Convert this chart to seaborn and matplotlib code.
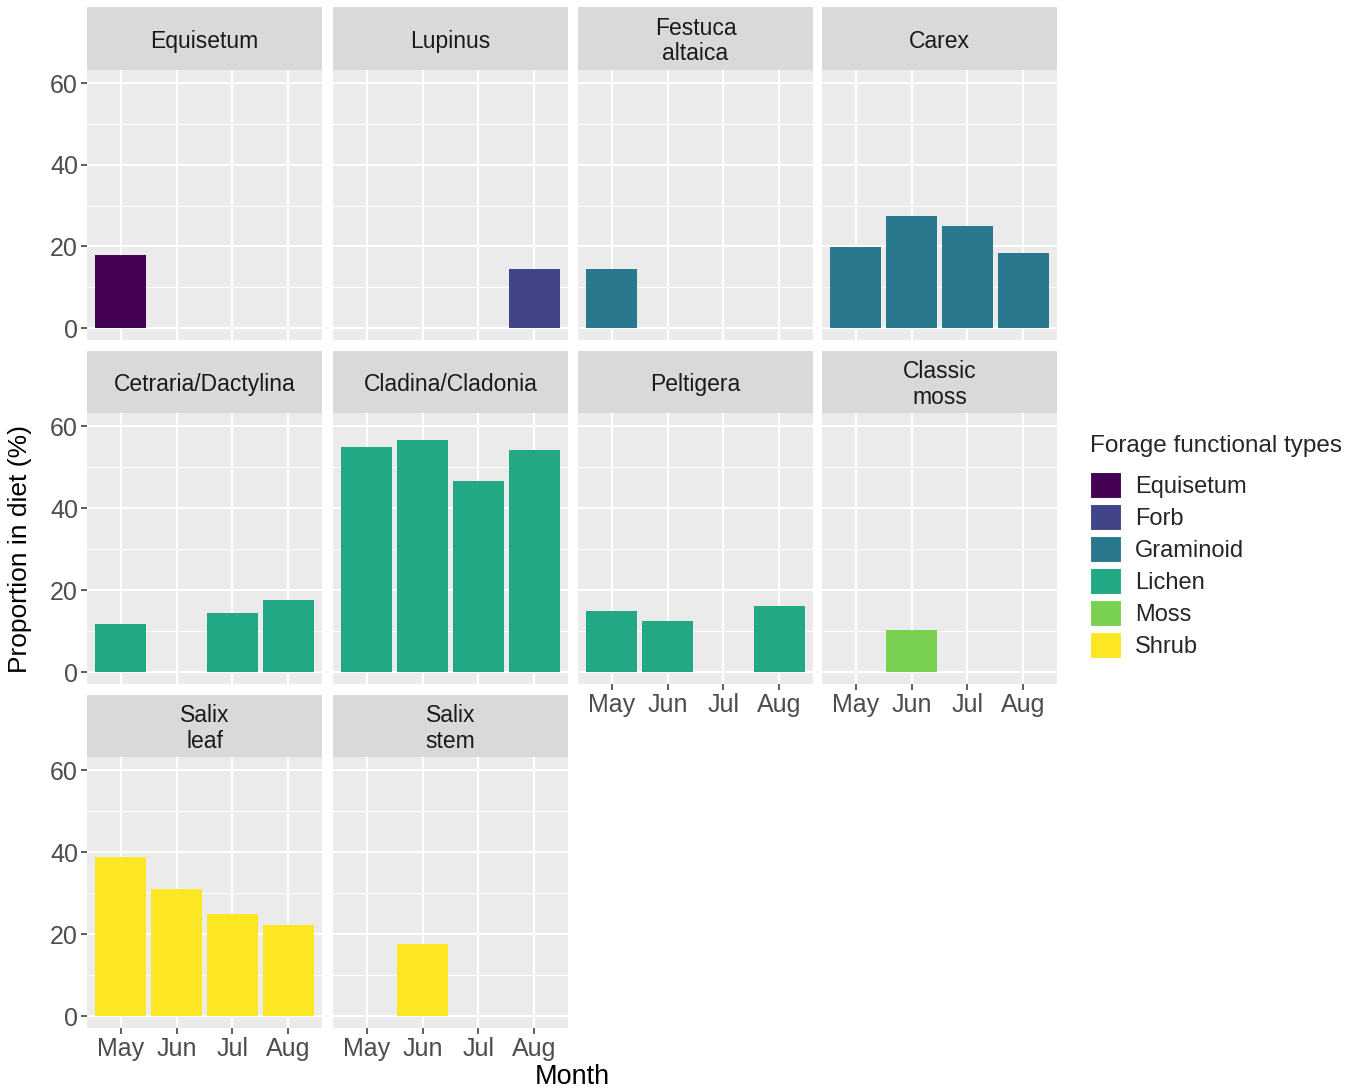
import numpy as np
import pandas as pd
import matplotlib
matplotlib.use("Agg")
import matplotlib.pyplot as plt
import seaborn as sns
from matplotlib.patches import Patch

nan = np.nan

months = ["May", "Jun", "Jul", "Aug"]
panels = ["Equisetum", "Lupinus", "Festuca\naltaica", "Carex",
          "Cetraria/Dactylina", "Cladina/Cladonia", "Peltigera", "Classic\nmoss",
          "Salix\nleaf", "Salix\nstem"]
panel_types = ["Equisetum", "Forb", "Graminoid", "Graminoid",
               "Lichen", "Lichen", "Lichen", "Moss",
               "Shrub", "Shrub"]
types = ["Equisetum", "Forb", "Graminoid", "Lichen", "Moss", "Shrub"]
type_colors = ["#440154", "#414487", "#2A788E", "#22A884", "#7AD151", "#FDE725"]

# Proportion in diet (%) per month, May..Aug
equisetum = [18.0, nan, nan, nan]
lupinus = [nan, nan, nan, 14.4]
festuca = [14.4, nan, nan, nan]
carex = [19.9, 27.5, 25.1, 18.5]
cetraria = [11.8, nan, 14.4, 17.6]
cladina = [54.9, 56.5, 46.5, 54.1]
peltigera = [14.9, 12.5, nan, 16.2]
classic_moss = [nan, 10.3, nan, nan]
salix_leaf = [38.7, 31.1, 25.0, 22.3]
salix_stem = [nan, 17.5, nan, nan]

panel_values = [equisetum, lupinus, festuca, carex, cetraria, cladina,
                peltigera, classic_moss, salix_leaf, salix_stem]

rows = []
for name, ftype, vals in zip(panels, panel_types, panel_values):
    for m, v in zip(months, vals):
        if not np.isnan(v):
            rows.append({"Panel": name, "Type": ftype, "Month": m, "Proportion": v})
df = pd.DataFrame(rows)
palette = dict(zip(types, type_colors))

sns.set_style("white")
plt.rcParams["font.family"] = ["Liberation Sans", "DejaVu Sans"]

W, H = 1364, 1092
fig = plt.figure(figsize=(W / 100, H / 100), dpi=100)
fig.patch.set_facecolor("white")

col_left = [87, 333, 578, 822]
panel_w = 235
row_strip_top = [7, 351, 695]
row_panel_top = [70, 413, 757]
row_panel_bot = [340, 684, 1028]

show_x = {"Peltigera", "Classic\nmoss", "Salix\nleaf", "Salix\nstem"}

for i, name in enumerate(panels):
    r, c = divmod(i, 4)
    l = col_left[c]
    t = row_panel_top[r]
    b = row_panel_bot[r]
    ax = fig.add_axes([l / W, 1 - b / H, panel_w / W, (b - t) / H])
    sub = df[df["Panel"] == name]
    sns.barplot(data=sub, x="Month", y="Proportion", order=months,
                color=palette[panel_types[i]], saturation=1, width=0.9,
                errorbar=None, linewidth=0, ax=ax)
    ax.set_facecolor("#EBEBEB")
    ax.set_xlim(-0.6, 3.6)
    ax.set_ylim(-2.9, 63.2)
    ax.set_yticks([0, 20, 40, 60])
    ax.set_yticks([10, 30, 50], minor=True)
    ax.grid(True, which="major", color="white", linewidth=1.5)
    ax.grid(True, which="minor", axis="y", color="white", linewidth=0.75)
    ax.set_axisbelow(True)
    for s in ax.spines.values():
        s.set_visible(False)
    ax.set_xlabel("")
    ax.set_ylabel("")
    ax.tick_params(axis="both", which="major", left=True, bottom=True,
                   length=4.5, width=1.1, color="#333333",
                   labelcolor="#4D4D4D", labelsize=18, pad=2)
    ax.tick_params(axis="y", which="minor", left=False, length=0)
    if c != 0:
        ax.tick_params(axis="y", which="major", left=False, labelleft=False)
    if name not in show_x:
        ax.tick_params(axis="x", which="major", bottom=False, labelbottom=False)

    # facet strip
    st = row_strip_top[r]
    sax = fig.add_axes([l / W, 1 - t / H, panel_w / W, (t - st) / H])
    sax.set_facecolor("#D9D9D9")
    sax.set_xticks([])
    sax.set_yticks([])
    for s in sax.spines.values():
        s.set_visible(False)
    sax.text(0.5, 0.46, name, ha="center", va="center", fontsize=16.5,
             color="#1A1A1A", linespacing=1.15, transform=sax.transAxes)

fig.text(572 / W, 1 - 1077 / H, "Month", ha="center", va="center",
         fontsize=19.5, color="black")
fig.text(20 / W, 1 - 549 / H, "Proportion in diet (%)", ha="center", va="center",
         rotation=90, fontsize=19, color="black")

handles = [Patch(facecolor=col, edgecolor="white", linewidth=0.8, label=t)
           for t, col in zip(types, type_colors)]
leg = fig.legend(handles=handles, title="Forage functional types",
                 loc="upper left", bbox_to_anchor=(1090 / W, 1 - 435 / H),
                 frameon=False, fontsize=17, title_fontsize=17.5,
                 handlelength=1.3, handleheight=1.3, labelspacing=0.26,
                 handletextpad=0.62, borderaxespad=0, borderpad=0)
leg._legend_box.align = "left"
leg._legend_box.sep = 11

fig.savefig("out.png", dpi=100, facecolor="white")
